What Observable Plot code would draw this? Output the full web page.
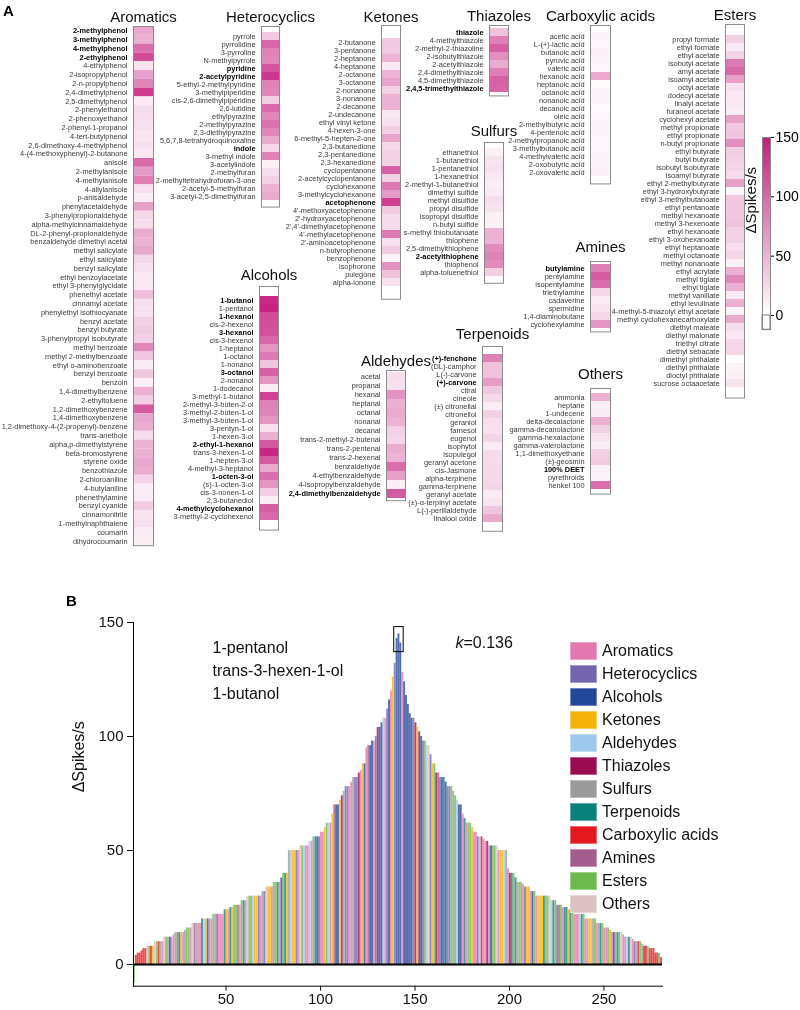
<!DOCTYPE html>
<html><head><meta charset="utf-8">
<script src="https://cdn.jsdelivr.net/npm/d3@7"></script>
<script src="https://cdn.jsdelivr.net/npm/@observablehq/plot@0.6"></script>
<style>
body{margin:0;background:#fff;font-family:"Liberation Sans",Arial,Helvetica,sans-serif;}
#root{position:relative;width:800px;height:1010px;overflow:hidden;background:#fff;}
.blk{position:absolute;will-change:transform;}
.blk svg{display:block;max-width:none;}
.plab{position:absolute;font-weight:bold;font-size:15px;color:#000;}
.leg{position:absolute;left:570px;font-size:16px;color:#111;display:flex;align-items:center;height:23px;}
.leg span.sw{display:inline-block;width:27px;height:18px;margin-right:5px;box-sizing:border-box;border:1px solid rgba(255,255,255,0.35);}
</style></head><body><div id="root"></div>
<script>
// ---------------- DATA ----------------
const categories = ["Aromatics","Heterocyclics","Alcohols","Ketones","Aldehydes","Thiazoles","Sulfurs","Terpenoids","Carboxylic acids","Amines","Esters","Others"];
const categoryColors = ["#e477ad","#7464ad","#23479a","#f5b30a","#9fc9ec","#9a0c50","#9b9b9b","#0a827c","#e3191f","#a35c8d","#6cba4b","#dcc1c2"];

const aromaticsNames = ["2-methylphenol","3-methylphenol","4-methylphenol","2-ethylphenol","4-ethylphenol","2-isopropylphenol","2-n-propylphenol","2,4-dimethylphenol","2,5-dimethylphenol","2-phenylethanol","2-phenoxyethanol","2-phenyl-1-propanol","4-tert-butylphenol","2,6-dimethoxy-4-methylphenol","4-(4-methoxyphenyl)-2-butanone","anisole","2-methylanisole","4-methylanisole","4-allylanisole","p-anisaldehyde","phenylacetaldehyde","3-phenylpropionaldehyde","alpha-methylcinnamaldehyde","DL-2-phenyl-propionaldehyde","benzaldehyde dimethyl acetal","methyl salicylate","ethyl salicylate","benzyl salicylate","ethyl benzoylacetate","ethyl 3-phenylglycidate","phenethyl acetate","cinnamyl acetate","phenylethyl isothiocyanate","benzyl acetate","benzyl butyrate","3-phenylpropyl isobutyrate","methyl benzoate","methyl 2-methylbenzoate","ethyl o-aminobenzoate","benzyl benzoate","benzoin","1,4-dimethylbenzene","2-ethyltoluene","1,2-dimethoxybenzene","1,4-dimethoxybenzene","1,2-dimethoxy-4-(2-propenyl)-benzene","trans-anethole","alpha,p-dimethylstyrene","beta-bromostyrene","styrene oxide","benzothiazole","2-chloroaniline","4-butylaniline","phenethylamine","benzyl cyanide","cinnamonitrile","1-methylnaphthalene","coumarin","dihydrocoumarin"];
const aromaticsValues = [58,52,95,120,18,62,80,128,14,24,22,20,18,20,16,98,66,85,22,12,62,26,22,55,50,58,25,20,16,16,42,22,20,30,35,30,78,36,14,36,10,52,32,108,58,54,22,50,52,58,54,28,12,13,34,18,22,13,11];
const aromaticsBold = ["2-methylphenol","3-methylphenol","4-methylphenol","2-ethylphenol"];

const heterocyclicsNames = ["pyrrole","pyrrolidine","3-pyrroline","N-methylpyrrole","pyridine","2-acetylpyridine","5-ethyl-2-methylpyridine","3-methylpiperidine","cis-2,6-dimethylpiperidine","2,6-lutidine","ethylpyrazine","2-methylpyrazine","2,3-diethylpyrazine","5,6,7,8-tetrahydroquinoxaline","indole","3-methyl indole","3-acetylindole","2-methylfuran","2-methyltetrahydrofuran-3-one","2-acetyl-5-methylfuran","3-acetyl-2,5-dimethylfuran"];
const heterocyclicsValues = [34,100,82,78,112,132,82,78,32,98,78,92,78,56,26,82,10,22,30,50,56];
const heterocyclicsBold = ["pyridine","2-acetylpyridine","indole"];

const alcoholsNames = ["1-butanol","1-pentanol","1-hexanol","cis-2-hexenol","3-hexanol","cis-3-hexenol","1-heptanol","1-octanol","1-nonanol","3-octanol","2-nonanol","1-dodecanol","3-methyl-1-butanol","2-methyl-3-buten-2-ol","3-methyl-2-buten-1-ol","3-methyl-3-buten-1-ol","3-pentyn-1-ol","1-hexen-3-ol","2-ethyl-1-hexanol","trans-3-hexen-1-ol","1-hepten-3-ol","4-methyl-3-heptanol","1-octen-3-ol","(s)-1-octen-3-ol","cis-3-nonen-1-ol","2,3-butanediol","4-methylcyclohexanol","3-methyl-2-cyclohexenol"];
const alcoholsValues = [141,145,118,116,114,100,70,88,38,104,70,14,124,82,80,70,20,52,110,143,108,56,96,70,32,12,106,98];
const alcoholsBold = ["1-butanol","1-hexanol","3-hexanol","3-octanol","2-ethyl-1-hexanol","1-octen-3-ol","4-methylcyclohexanol"];

const ketonesNames = ["2-butanone","3-pentanone","2-heptanone","4-heptanone","2-octanone","3-octanone","2-nonanone","3-nonanone","2-decanone","2-undecanone","ethyl vinyl ketone","4-hexen-3-one","6-methyl-5-hepten-2-one","2,3-butanedione","2,3-pentanedione","2,3-hexanedione","cyclopentanone","2-acetylcyclopentanone","cyclohexanone","3-methylcyclohexanone","acetophenone","4'-methoxyacetophenone","2'-hydroxyacetophenone","2',4'-dimethylacetophenone","4'-methylacetophenone","2'-aminoacetophenone","n-butyrophenone","benzophenone","isophorone","pulegone","alpha-ionone"];
const ketonesValues = [34,34,50,14,50,60,30,50,50,15,20,30,60,25,30,30,104,30,88,66,126,34,24,24,88,20,34,8,72,40,20];
const ketonesBold = ["acetophenone"];

const aldehydesNames = ["acetal","propanal","hexanal","heptanal","octanal","nonanal","decanal","trans-2-methyl-2-butenal","trans-2-pentenal","trans-2-hexenal","benzaldehyde","4-ethylbenzaldehyde","4-isopropylbenzaldehyde","2,4-dimethylbenzaldehyde"];
const aldehydesValues = [22,20,72,52,56,50,30,28,54,50,96,62,12,108];
const aldehydesBold = ["2,4-dimethylbenzaldehyde"];

const thiazolesNames = ["thiazole","4-methylthiazole","2-methyl-2-thiazoline","2-isobutylthiazole","2-acetylthiazole","2,4-dimethylthiazole","4,5-dimethylthiazole","2,4,5-trimethylthiazole"];
const thiazolesValues = [40,84,106,74,54,84,104,102];
const thiazolesBold = ["thiazole","2,4,5-trimethylthiazole"];

const sulfursNames = ["ethanethiol","1-butanethiol","1-pentanethiol","1-hexanethiol","2-methyl-1-butanethiol","dimethyl sulfide","methyl disulfide","propyl disulfide","isopropyl disulfide","n-butyl sulfide","s-methyl thiobutanoate","thiophene","2,5-dimethylthiophene","2-acetylthiophene","thiophenol","alpha-toluenethiol"];
const sulfursValues = [10,18,20,15,12,14,22,18,10,9,50,50,76,82,76,32];
const sulfursBold = ["2-acetylthiophene"];

const terpenoidsNames = ["(+)-fenchone","(DL)-camphor","L(-)-carvone","(+)-carvone","citral","cineole","(±) citronellal","citronellol","geraniol","farnesol","eugenol","isophytol","isopulegol","geranyl acetone","cis-Jasmone","alpha-terpinene","gamma-terpinene","geranyl acetate","(±)-α-terpinyl acetate","L(-)-perillaldehyde","linalool oxide"];
const terpenoidsValues = [82,40,40,64,36,25,12,30,22,20,28,14,24,24,25,25,28,14,18,38,56];
const terpenoidsBold = ["(+)-fenchone","(+)-carvone"];

const carboxylicNames = ["acetic acid","L-(+)-lactic acid","butanoic acid","pyruvic acid","valeric acid","hexanoic acid","heptanoic acid","octanoic acid","nonanoic acid","decanoic acid","oleic acid","2-methylbutyric acid","4-pentenoic acid","2-methylpropanoic acid","3-methylbutanoic acid","4-methylvaleric acid","2-oxobutyric acid","2-oxovaleric acid"];
const carboxylicValues = [7,5,10,7,5,56,3,8,7,4,5,8,7,6,5,8,7,10];
const carboxylicBold = [];

const aminesNames = ["butylamine","pentylamine","isopentylamine","triethylamine","cadaverine","spermidine","1,4-diaminobutane","cyclohexylamine"];
const aminesValues = [84,108,96,26,14,18,26,70];
const aminesBold = ["butylamine"];

const estersNames = ["propyl formate","ethyl formate","ethyl acetate","isobutyl acetate","amyl acetate","isoamyl acetate","octyl acetate","dodecyl acetate","linalyl acetate","furaneol acetate","cyclohexyl acetate","methyl propionate","ethyl propionate","n-butyl propionate","ethyl butyrate","butyl butyrate","isobutyl isobutyrate","isoamyl butyrate","ethyl 2-methylbutyrate","ethyl 3-hydroxybutyrate","ethyl 3-methylbutanoate","ethyl pentanoate","methyl hexanoate","methyl 3-hexenoate","ethyl hexanoate","ethyl 3-oxohexanoate","ethyl heptanoate","methyl octanoate","methyl nonanoate","ethyl acrylate","methyl tiglate","ethyl tiglate","methyl vanillate","ethyl levulinate","4-methyl-5-thiazolyl ethyl acetate","methyl cyclohexanecarboxylate","diethyl maleate","diethyl malonate","triethyl citrate","diethyl sebacate","dimethyl phthalate","diethyl phthalate","dioctyl phthalate","sucrose octaacetate"];
const estersValues = [30,14,28,88,98,62,20,16,16,12,62,36,40,74,32,30,28,24,62,5,36,36,36,40,30,30,22,26,10,52,78,52,14,52,8,56,22,16,26,26,-8,8,10,18];
const estersBold = [];

const othersNames = ["ammonia","heptane","1-undecene","delta-decalactone","gamma-decanolactone","gamma-hexalactone","gamma-valerolactone","1,1-dimethoxyethane","(±)-geosmin","100% DEET","pyrethroids","henkel 100"];
const othersValues = [52,12,14,52,30,18,12,30,34,10,8,96];
const othersBold = ["100% DEET"];

const yTicks = [0,50,100,150];
const xTicks = [50,100,150,200,250];
const kValue = "0.136";
const colorbarTicks = [0,50,100,150];

// ---------------- LAYOUT ----------------
const FONT = '"Liberation Sans", Arial, Helvetica, sans-serif';
const root = document.getElementById("root");
function place(node, left, top){
  const d = document.createElement("div");
  d.className = "blk"; d.style.left = left + "px"; d.style.top = top + "px";
  d.appendChild(node); root.appendChild(d);
}
const heatColor = {type:"linear", domain:[0,150], range:["#ffffff","#c51b7d"], clamp:true};

// [category, names, values, bold, colX, colW, boxTop, rowH, titleY]
const blocks = [
  ["Aromatics", aromaticsNames, aromaticsValues, aromaticsBold, 133, 20, 25.6, 8.8, 10],
  ["Heterocyclics", heterocyclicsNames, heterocyclicsValues, heterocyclicsBold, 261, 18, 25.6, 8.6, 10],
  ["Alcohols", alcoholsNames, alcoholsValues, alcoholsBold, 259, 19, 285.6, 8.7, 268],
  ["Ketones", ketonesNames, ketonesValues, ketonesBold, 381, 19, 24.6, 8.83, 10],
  ["Aldehydes", aldehydesNames, aldehydesValues, aldehydesBold, 386, 19, 370, 9.3, 355],
  ["Thiazoles", thiazolesNames, thiazolesValues, thiazolesBold, 489, 19, 25, 8.8, 10],
  ["Sulfurs", sulfursNames, sulfursValues, sulfursBold, 484, 19, 142, 8.8, 125],
  ["Terpenoids", terpenoidsNames, terpenoidsValues, terpenoidsBold, 482, 20, 346, 8.8, 328],
  ["Carboxylic acids", carboxylicNames, carboxylicValues, carboxylicBold, 590, 20, 25, 8.8, 10],
  ["Amines", aminesNames, aminesValues, aminesBold, 590, 20, 261, 8.8, 241],
  ["Esters", estersNames, estersValues, estersBold, 725, 19, 24, 8.49, 9],
  ["Others", othersNames, othersValues, othersBold, 590, 20, 388, 8.8, 368]
];

const LW = 150, RW = 45, T = 34;
for (const [cat, names, values, bold, colX, colW, top, rowH, titleY] of blocks) {
  const rows = names.map((n, k) => ({name: n, value: values[k], bold: bold.includes(n)}));
  const h = rows.length * rowH;
  const svg = Plot.plot({
    width: LW + colW + RW, height: T + h + 3,
    marginLeft: LW, marginRight: RW, marginTop: T, marginBottom: 3,
    x: {domain: ["v"], axis: null, padding: 0},
    y: {domain: names, axis: null, padding: 0},
    color: heatColor,
    style: {background: "transparent", overflow: "visible", fontFamily: FONT},
    marks: [
      Plot.cell(rows, {x: () => "v", y: "name", fill: "value"}),
      Plot.frame({stroke: "#8c8c8c", strokeWidth: 1}),
      Plot.text(rows.filter(d => !d.bold), {y: "name", text: "name", frameAnchor: "left", textAnchor: "end", dx: -6, fontSize: 7.4, fill: "#3a3a3a"}),
      Plot.text(rows.filter(d => d.bold), {y: "name", text: "name", frameAnchor: "left", textAnchor: "end", dx: -6, fontSize: 7.4, fontWeight: "bold", fill: "#000"}),
      Plot.text([cat], {frameAnchor: "top", dy: titleY - top, fontSize: 15, fill: "#111"})
    ]
  });
  place(svg, colX - LW, top - T);
}

// colour bar legend
{
  const ramp = d3.range(colorbarTicks[0], colorbarTicks[colorbarTicks.length - 1]);
  const under = [{lo: -12, hi: 0}];
  const svg = Plot.plot({
    width: 110, height: 225, marginLeft: 67, marginRight: 35, marginTop: 17, marginBottom: 15.8,
    x: {domain: [0, 1], axis: null},
    y: {domain: [under[0].lo, colorbarTicks[colorbarTicks.length - 1]]},
    color: heatColor,
    style: {background: "transparent", overflow: "visible", fontFamily: FONT},
    marks: [
      Plot.rect(ramp, {x1: 0, x2: 1, y1: d => d, y2: d => Math.min(d + 2, 150), fill: d => d, shapeRendering: "crispEdges"}),
      Plot.rect(under, {x1: 0, x2: 1, y1: "lo", y2: "hi", fill: "white", stroke: "#777"}),
      Plot.frame({stroke: "#888"}),
      Plot.axisY({anchor: "right", ticks: colorbarTicks, tickSize: 3, fontSize: 14, label: null, tickPadding: 2}),
      Plot.text(["ΔSpikes/s"], {frameAnchor: "left", rotate: -90, dx: -11, fontSize: 15, fill: "#111"})
    ]
  });
  place(svg, 695, 120);
}

// ---------------- PANEL B ----------------
const namesOf = [aromaticsNames, heterocyclicsNames, alcoholsNames, ketonesNames, aldehydesNames, thiazolesNames, sulfursNames, terpenoidsNames, carboxylicNames, aminesNames, estersNames, othersNames];
const valuesOf = [aromaticsValues, heterocyclicsValues, alcoholsValues, ketonesValues, aldehydesValues, thiazolesValues, sulfursValues, terpenoidsValues, carboxylicValues, aminesValues, estersValues, othersValues];
const odorTable = categories.flatMap((c, ci) => namesOf[ci].map((n, k) => ({name: n, cat: c, value: valuesOf[ci][k]})));
const ranked = d3.sort(odorTable, d => -d.value);
const nOd = ranked.length, center = Math.floor(nOd / 2) + 1;
ranked.forEach((d, r) => { d.i = r % 2 ? center - (r + 1) / 2 : center + r / 2; });
const top3 = ranked.slice(0, 3);
const peakBox = [{x1: d3.min(top3, d => d.i) - 1, x2: d3.max(top3, d => d.i) + 2, y1: d3.min(top3, d => d.value) - 4, y2: d3.max(top3, d => d.value) + 3}];

const bSvg = Plot.plot({
  width: 800, height: 420,
  marginLeft: 133, marginRight: 138, marginTop: 32, marginBottom: 24.3,
  x: {domain: [1, nOd + 1]},
  y: {domain: [-9.5, 150]},
  color: {domain: categories, range: categoryColors},
  style: {background: "transparent", overflow: "visible", fontFamily: FONT, color: "#111"},
  marks: [
    Plot.rectY(ranked, {x1: "i", x2: d => d.i + 1, y: "value", fill: "cat", fillOpacity: 0.78}),
    Plot.ruleY([0], {stroke: "#000", strokeWidth: 2}),
    Plot.frame({anchor: "left", stroke: "#000"}),
    Plot.frame({anchor: "bottom", stroke: "#000"}),
    Plot.axisY({ticks: yTicks, tickSize: 6, label: null, fontSize: 15, tickPadding: 4}),
    Plot.axisX({ticks: xTicks, tickSize: 5, label: null, fontSize: 15, tickPadding: 2}),
    Plot.rect(peakBox, {x1: "x1", x2: "x2", y1: "y1", y2: "y2", fill: "none", stroke: "#000", strokeWidth: 1}),
    Plot.text([top3.map(d => d.name).join("\n")], {frameAnchor: "top-left", dx: 79, dy: 14, lineAnchor: "top", textAnchor: "start", fontSize: 16, lineHeight: 1.44}),
    Plot.text(["k"], {frameAnchor: "top-left", dx: 322, dy: 14, lineAnchor: "top", textAnchor: "start", fontSize: 16, fontStyle: "italic"}),
    Plot.text(["=" + kValue], {frameAnchor: "top-left", dx: 330, dy: 14, lineAnchor: "top", textAnchor: "start", fontSize: 16}),
    Plot.text(["ΔSpikes/s"], {frameAnchor: "left", rotate: -90, dx: -55, dy: -12, fontSize: 16})
  ]
});
place(bSvg, 0, 590);

// legend
categories.forEach((c, k) => {
  const row = document.createElement("div");
  row.className = "leg";
  row.style.top = (639.5 + k * 23) + "px";
  const sw = document.createElement("span");
  sw.className = "sw"; sw.style.background = categoryColors[k];
  row.appendChild(sw);
  row.appendChild(document.createTextNode(c));
  root.appendChild(row);
});

// panel letters
for (const [t, l, tp] of [["A", 3, 2], ["B", 66, 592]]) {
  const d = document.createElement("div");
  d.className = "plab"; d.textContent = t; d.style.left = l + "px"; d.style.top = tp + "px";
  root.appendChild(d);
}
</script></body></html>
